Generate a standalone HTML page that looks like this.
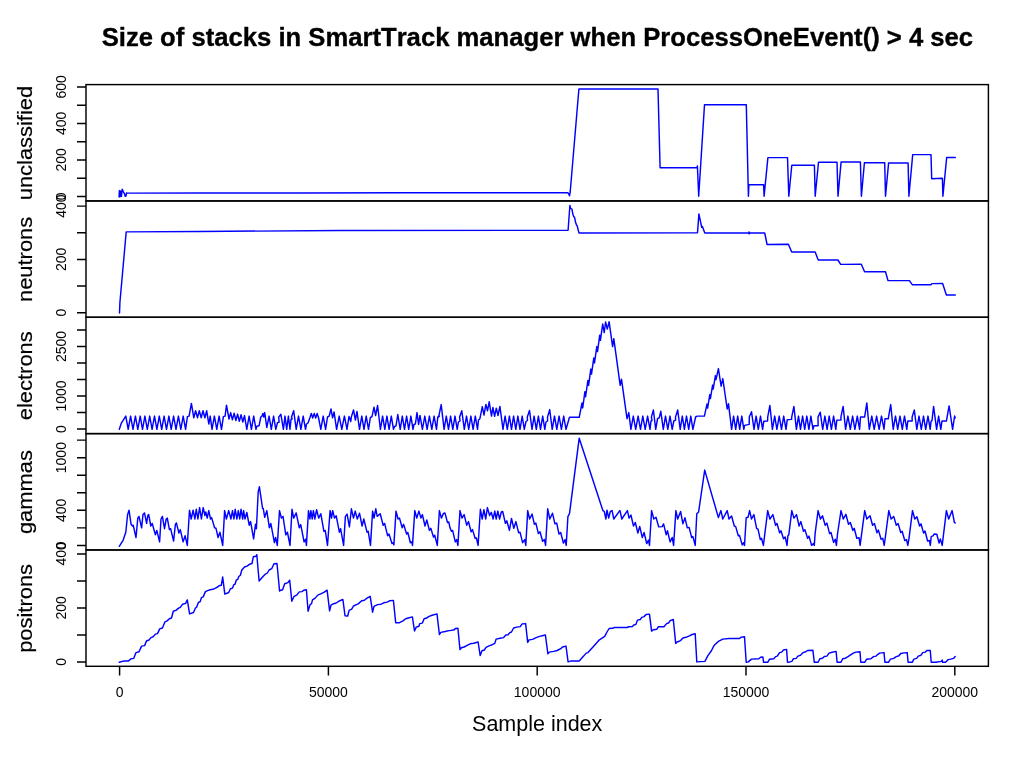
<!DOCTYPE html>
<html lang="en"><head><meta charset="utf-8">
<title>Size of stacks in SmartTrack manager</title>
<style>
html,body{margin:0;padding:0;background:#fff;}
body{width:1024px;height:768px;overflow:hidden;}
svg{display:block;will-change:transform;}
text{font-family:"Liberation Sans",sans-serif;fill:#000;font-kerning:none;font-variant-ligatures:none;}
.ttl{font-size:25.65px;font-weight:bold;stroke:#000;stroke-width:0.35px;}
.lab{font-size:21.5px;}
.rot{stroke:#000;stroke-width:0.2px;}
.tk{font-size:14.0px;}
.box{fill:none;stroke:#000;stroke-width:1.45;stroke-linecap:square;}
.tick{fill:none;stroke:#000;stroke-width:1.45;}
.ser{fill:none;stroke:#0000ff;stroke-width:1.45;stroke-linejoin:round;stroke-linecap:round;}
</style></head><body>
<svg width="1024" height="768" viewBox="0 0 1024 768">
<rect x="0" y="0" width="1024" height="768" fill="#ffffff"/>
<text class="ttl" x="537.4" y="46.1" text-anchor="middle">Size of stacks in SmartTrack manager when ProcessOneEvent() &gt; 4 sec</text>
<polyline class="ser" points="119.1,196.9 119.4,190.6 120.0,196.8 120.6,191.0 121.4,196.4 122.2,189.3 123.3,191.6 124.4,193.6 125.2,196.2 126.0,196.0 126.5,192.9 127.0,193.1 200.0,193.0 300.0,192.9 400.0,192.8 500.0,192.7 567.4,192.6 568.4,193.3 569.5,195.8 570.2,192.0 578.9,89.0 658.0,88.9 660.1,167.8 697.0,167.8 697.4,166.0 698.7,196.2 704.5,104.8 746.3,104.8 748.4,196.2 748.9,184.8 763.6,184.8 764.1,196.2 767.9,157.6 787.5,157.6 788.8,196.2 791.8,165.2 814.4,165.2 815.2,196.2 818.5,162.2 837.0,162.2 838.0,196.2 841.1,161.9 860.4,161.9 861.4,196.2 864.4,162.7 884.7,162.7 885.5,196.2 888.6,162.9 908.1,162.9 908.9,196.2 912.7,154.6 931.0,154.6 931.7,178.7 942.4,178.2 942.9,196.2 946.7,157.4 955.3,157.4"/>
<polyline class="ser" points="119.5,312.9 119.7,308.0 119.9,302.5 126.2,231.9 200.0,231.5 340.0,230.5 568.1,230.3 569.9,205.4 570.4,208.0 571.3,208.8 572.0,209.4 572.8,214.0 573.8,216.8 574.5,217.2 575.5,222.0 576.5,225.0 577.3,226.2 578.2,230.0 579.0,232.9 697.5,232.7 698.9,213.9 701.7,227.3 702.4,226.5 704.8,233.0 748.8,233.0 749.0,231.9 749.2,233.9 749.4,233.0 764.7,233.0 767.1,244.5 788.4,244.3 791.7,252.0 815.2,252.0 818.2,260.0 837.9,260.0 840.7,264.4 861.3,264.2 864.6,271.7 885.5,271.7 888.0,280.6 909.4,280.6 912.4,284.8 930.9,284.8 931.9,283.6 942.6,283.4 946.4,294.9 955.3,294.9"/>
<polyline class="ser" points="119.3,429.3 121.4,423.1 125.8,416.1 128.2,429.3 130.6,416.1 133.0,429.3 135.4,416.1 137.8,429.3 140.2,416.1 142.5,429.3 144.9,416.1 147.3,429.3 149.7,416.1 152.1,429.3 154.5,416.1 156.9,429.3 159.3,416.1 161.7,429.3 164.1,416.1 166.5,429.3 168.9,416.1 171.2,429.3 173.6,416.1 176.0,429.3 178.4,416.1 180.8,429.3 183.2,416.1 185.6,429.3 187.4,416.6 187.4,416.6 189.1,416.1 191.4,403.4 193.8,417.8 195.6,410.8 197.5,417.8 199.3,410.8 201.2,417.8 203.0,410.8 204.9,417.8 206.7,410.8 208.8,424.0 210.2,416.1 212.0,429.3 214.4,416.1 216.8,429.3 219.1,416.1 221.5,429.3 223.4,416.6 225.1,416.1 226.5,405.2 229.0,419.0 230.7,412.6 232.4,419.8 234.2,413.3 235.9,420.5 237.6,414.1 239.3,421.3 241.1,414.8 242.8,422.0 244.5,415.6 246.8,429.3 249.1,416.1 251.4,429.3 253.7,416.1 256.0,429.3 256.8,426.3 259.1,425.7 260.8,417.0 262.0,416.1 262.9,413.4 263.8,417.0 264.7,412.6 266.8,427.5 269.1,416.1 271.3,429.3 273.6,416.1 275.8,429.3 277.5,422.6 279.1,422.2 278.7,417.1 280.9,414.3 283.4,429.3 285.0,416.1 286.7,429.3 288.4,416.1 290.0,429.3 291.0,419.5 292.2,418.8 291.5,417.1 293.7,410.8 296.2,429.3 298.5,416.1 300.9,429.3 303.2,416.1 305.5,429.3 306.5,424.0 308.0,423.0 309.8,418.0 311.3,413.4 312.7,418.0 314.2,413.4 315.7,418.0 317.1,413.4 318.6,418.0 320.8,429.3 323.2,416.1 325.6,429.3 327.5,417.0 329.2,416.1 331.0,409.0 332.6,417.8 334.1,412.0 336.6,429.3 339.2,416.1 341.8,429.3 344.4,416.1 347.0,429.3 349.0,416.5 350.8,421.5 351.3,417.1 353.5,410.0 355.4,420.0 357.0,411.5 359.5,429.3 361.8,416.1 364.0,429.3 366.2,416.1 368.5,429.3 370.4,417.5 372.0,416.6 374.0,407.2 375.6,415.5 377.6,405.5 380.4,429.3 382.6,416.1 384.8,429.3 386.9,416.1 389.1,429.3 391.3,416.1 393.5,429.3 394.6,426.5 396.0,425.8 397.8,414.5 400.2,429.3 402.3,416.1 404.5,429.3 406.6,416.1 408.7,429.3 410.9,416.1 413.0,429.3 414.0,424.5 415.4,424.0 417.0,412.6 418.6,424.5 420.0,415.4 422.4,429.3 424.8,416.1 427.1,429.3 429.4,416.1 431.8,429.3 434.1,416.1 436.5,429.3 437.8,417.0 439.5,416.1 438.6,417.1 441.2,404.6 444.1,429.3 446.3,416.1 448.5,429.3 450.6,416.1 452.8,429.3 455.0,416.1 457.2,429.3 458.4,422.0 460.0,421.0 459.6,417.1 461.8,410.8 464.3,429.3 466.5,416.1 468.7,429.3 470.9,416.1 473.1,429.3 475.3,416.1 477.5,429.3 478.5,420.0 479.9,418.7 482.3,406.6 484.0,415.0 485.9,404.4 487.5,410.8 489.2,401.8 491.5,416.1 492.9,407.5 494.6,416.3 496.3,408.2 498.0,415.5 499.9,406.4 503.0,429.3 505.1,416.1 507.3,429.3 509.4,416.1 511.5,429.3 513.6,416.1 515.8,429.3 517.9,416.1 520.0,429.3 522.2,416.1 524.3,429.3 526.0,421.5 527.5,420.5 527.3,417.1 529.5,410.4 532.0,429.3 534.1,416.1 536.3,429.3 538.4,416.1 540.5,429.3 542.7,416.1 544.8,429.3 546.0,422.0 547.6,421.0 547.5,417.1 549.7,409.6 552.2,429.3 554.5,416.1 556.8,429.3 559.1,416.1 561.4,429.3 563.7,416.1 566.0,429.3 569.5,417.3 579.2,417.3 582.0,403.0 582.7,408.0 584.9,391.7 585.6,396.7 587.9,380.4 588.6,385.4 590.8,369.1 591.5,374.1 593.8,357.9 594.5,362.9 596.8,346.6 597.5,351.6 599.7,335.3 600.4,340.3 602.7,324.0 604.2,332.6 605.6,322.0 607.3,329.1 609.1,321.7 612.6,346.6 613.8,338.7 620.2,385.3 621.5,379.2 627.0,418.7 628.8,412.6 630.9,429.3 633.3,416.1 635.7,429.3 638.1,416.1 640.5,429.3 642.8,416.1 645.2,429.3 647.6,416.1 650.0,429.3 651.0,421.0 652.0,420.5 651.4,417.1 653.4,410.0 655.7,429.3 657.6,418.5 659.2,417.8 660.8,411.3 663.3,429.3 665.5,416.1 667.8,429.3 670.0,416.1 672.2,429.3 673.8,421.0 675.6,420.2 675.5,417.1 677.7,410.0 680.2,429.3 682.3,416.1 684.4,429.3 686.5,416.1 688.7,429.3 690.8,416.1 692.9,429.3 695.6,417.0 697.3,416.1 704.4,416.1 707.0,404.1 707.6,408.1 709.8,394.6 710.4,398.6 712.6,385.1 713.2,389.1 715.4,375.6 716.0,379.6 718.4,368.6 721.1,386.2 722.8,378.6 727.2,409.0 728.5,403.8 731.6,429.3 733.6,416.1 735.7,429.3 737.7,416.1 739.7,429.3 741.8,416.1 743.8,429.3 744.6,425.4 749.2,424.4 749.3,417.1 751.5,411.7 754.0,429.3 756.1,416.1 758.3,429.3 760.5,416.1 762.6,429.3 763.8,421.2 767.6,421.0 767.7,417.1 769.9,405.5 772.4,429.3 774.7,416.1 776.9,429.3 779.2,416.1 781.5,429.3 783.7,416.1 786.0,429.3 787.2,419.8 791.6,419.4 791.7,417.1 793.9,406.4 796.4,429.3 798.5,416.1 800.5,429.3 802.6,416.1 804.7,429.3 806.8,416.1 808.9,429.3 810.9,416.1 813.0,429.3 813.9,425.7 818.1,425.7 818.0,417.1 820.2,412.2 822.7,429.3 824.9,416.1 827.1,429.3 829.2,416.1 831.4,429.3 833.6,416.1 835.8,429.3 836.8,420.1 841.0,420.1 840.9,417.1 843.1,406.4 845.6,429.3 847.9,416.1 850.3,429.3 852.6,416.1 854.9,429.3 857.3,416.1 859.6,429.3 860.5,417.0 864.7,417.0 864.6,417.1 866.8,402.9 869.3,429.3 871.8,416.1 874.2,429.3 876.6,416.1 879.1,429.3 881.5,416.1 884.0,429.3 885.0,418.7 888.4,418.7 888.5,417.1 890.7,404.6 893.2,429.3 895.5,416.1 897.7,429.3 900.0,416.1 902.3,429.3 904.5,416.1 906.8,429.3 907.8,421.0 912.2,421.0 912.1,417.1 914.3,410.0 916.8,429.3 919.0,416.1 921.3,429.3 923.5,416.1 925.7,429.3 928.0,416.1 930.2,429.3 931.0,421.5 932.0,420.5 933.6,406.4 936.6,429.3 938.6,416.1 940.8,429.3 942.0,421.0 946.4,421.0 949.1,405.9 952.6,429.3 954.6,416.0 955.2,418.0"/>
<polyline class="ser" points="119.3,546.3 123.2,540.1 125.8,532.2 127.6,514.6 129.0,510.2 131.1,524.3 132.5,526.0 133.2,525.2 136.0,537.5 137.8,518.1 139.0,516.4 141.6,527.8 143.0,514.6 144.5,512.9 146.6,523.4 147.8,515.5 148.7,514.6 150.8,526.0 152.2,523.4 155.4,534.8 156.8,530.4 159.6,541.9 161.0,519.0 162.4,516.4 164.5,528.7 166.2,519.0 167.3,518.1 169.4,529.6 170.6,528.7 173.6,541.0 175.4,524.3 176.4,522.9 178.9,533.1 180.3,529.6 183.1,541.9 185.1,535.7 187.3,545.4 189.5,510.2 191.2,519.0 193.1,510.2 194.9,519.0 196.3,509.3 197.9,519.0 199.6,507.6 201.4,519.0 203.2,507.6 204.9,515.5 205.8,512.0 207.2,518.1 208.8,510.6 210.5,519.0 211.6,517.6 214.6,527.8 216.0,528.3 218.1,537.5 219.9,532.2 222.7,545.4 224.6,510.6 226.4,519.0 228.7,510.6 230.9,519.0 232.5,510.6 233.9,519.0 235.2,509.3 236.9,519.0 238.3,510.6 239.7,519.0 241.0,509.3 242.7,519.0 243.6,510.6 245.0,519.0 246.8,512.5 249.2,525.2 250.6,521.6 253.6,538.9 255.5,524.3 256.4,528.7 258.2,491.8 259.4,486.8 262.6,508.5 263.3,508.5 264.7,517.3 266.8,510.6 269.4,527.8 270.8,523.4 274.4,542.7 275.6,537.5 277.3,545.4 279.5,510.6 281.4,518.1 283.0,516.4 285.8,534.8 287.4,532.2 290.0,545.4 292.0,509.3 293.7,518.1 296.2,512.9 299.3,527.8 300.7,524.6 304.1,541.9 305.7,539.2 306.4,545.4 308.5,510.6 309.9,519.0 310.9,510.6 312.2,519.0 313.4,510.6 314.8,519.0 316.6,509.7 318.7,518.1 320.8,513.7 323.9,531.3 325.2,530.4 327.5,545.4 330.1,510.6 331.5,518.1 332.7,510.6 334.5,518.1 336.2,515.8 339.4,532.2 340.6,528.7 343.6,545.4 345.4,516.4 347.1,514.1 349.4,526.9 351.4,508.8 353.5,518.1 355.2,511.1 357.3,519.0 359.5,513.2 362.1,526.0 363.8,519.0 367.0,532.2 368.2,531.3 370.5,545.4 372.6,511.1 374.0,518.1 375.8,508.8 377.2,516.4 380.2,513.7 383.2,525.2 384.6,523.4 387.6,535.7 389.0,534.0 392.0,543.6 393.4,542.7 393.9,544.9 396.0,511.1 398.1,519.0 399.5,518.1 402.2,527.8 403.6,524.3 406.6,534.0 407.8,532.5 410.4,542.7 411.8,541.9 412.5,545.4 414.8,510.6 416.8,518.1 418.9,511.1 421.0,518.1 422.4,514.6 425.0,526.0 426.8,519.9 429.4,530.4 430.8,528.3 433.5,537.1 434.7,535.2 437.3,545.4 439.4,510.6 441.4,518.1 443.5,513.4 444.9,512.9 447.5,522.5 448.8,522.0 450.0,527.8 451.4,531.3 452.6,530.4 455.3,541.9 456.7,539.6 457.9,545.4 460.0,510.6 462.0,518.1 464.1,514.6 466.7,525.2 468.5,521.6 471.1,531.8 472.5,529.6 475.1,538.3 476.4,538.0 478.1,545.4 480.4,509.3 482.2,519.0 483.9,509.7 485.7,519.0 487.4,507.6 489.6,515.5 491.3,512.3 493.1,519.0 494.8,511.1 496.2,519.0 497.8,511.1 499.6,519.0 501.3,512.0 502.7,511.5 505.4,523.4 506.8,520.8 509.4,530.4 511.5,518.5 513.8,528.3 515.9,521.6 518.6,532.7 520.0,532.2 522.6,542.7 524.7,539.6 525.8,545.4 527.7,510.6 529.6,519.0 532.1,514.1 534.4,524.3 535.8,522.9 538.4,533.6 540.0,531.7 542.6,541.3 544.4,539.6 545.6,545.4 547.7,508.8 549.8,519.0 552.5,513.2 554.9,523.8 556.7,523.1 559.0,534.0 560.7,532.5 563.4,543.1 565.1,539.6 566.2,545.4 567.9,516.7 569.5,513.7 579.2,438.2 602.9,510.6 604.3,511.5 605.9,519.0 607.0,510.2 608.7,518.1 610.3,511.5 612.1,510.6 613.8,519.0 619.6,510.9 620.0,510.6 621.8,519.0 627.4,510.6 629.1,518.1 630.9,515.0 633.5,526.0 635.3,522.5 637.9,533.1 639.7,526.4 642.3,537.5 644.1,532.5 646.7,543.6 648.5,540.1 649.5,545.4 651.6,510.6 653.8,519.0 656.0,517.3 658.7,526.9 662.2,526.6 663.6,523.9 666.2,534.8 667.5,530.8 670.1,541.9 672.2,537.5 673.6,545.4 675.9,510.6 677.7,519.0 680.6,511.5 682.9,523.8 685.0,517.8 687.3,527.8 689.1,527.4 691.7,537.5 692.9,536.6 695.2,545.4 696.8,513.7 698.6,512.0 704.7,470.1 718.4,517.6 720.9,510.6 722.8,519.0 727.2,510.6 729.0,519.0 731.6,516.0 734.3,526.0 735.7,526.6 738.3,535.7 739.5,535.4 742.2,544.9 743.6,542.7 744.5,545.4 746.2,517.8 748.0,517.3 749.6,510.6 751.5,519.0 753.9,514.6 756.6,528.3 758.0,529.2 760.3,539.6 761.5,538.3 763.4,545.4 767.7,510.6 769.9,519.0 772.9,514.6 775.6,525.2 777.0,523.4 779.6,532.7 781.0,530.8 783.5,538.7 785.2,537.1 787.0,545.4 787.9,535.7 788.8,534.8 791.8,510.6 793.9,518.1 796.5,514.6 799.1,526.0 800.9,521.6 803.5,531.3 804.9,529.6 807.6,538.3 809.0,536.1 811.6,545.4 813.4,543.6 814.3,545.4 815.1,533.6 818.1,510.6 820.4,519.0 822.5,515.8 825.2,525.2 826.9,523.1 829.6,533.6 831.0,532.5 833.6,542.4 835.2,539.2 836.4,545.4 837.5,534.0 841.0,510.6 843.3,519.0 845.9,514.3 848.5,524.3 850.3,522.5 852.9,530.4 854.2,528.3 856.8,538.3 859.1,537.8 860.1,545.4 861.2,537.1 864.7,510.6 866.8,519.0 870.0,515.8 872.6,525.2 874.4,523.4 877.0,532.7 878.4,530.1 881.1,539.2 882.8,538.3 884.2,545.4 885.3,537.5 888.8,510.6 891.1,519.0 893.7,516.4 896.3,525.2 898.1,523.4 900.7,532.5 902.1,531.3 904.8,540.6 906.5,539.6 907.8,545.4 909.0,538.3 912.5,510.6 914.8,519.0 916.9,516.7 919.6,526.0 921.0,523.8 923.6,533.1 925.0,531.0 927.6,541.0 929.4,540.5 930.3,545.4 931.2,536.6 933.3,535.7 934.1,534.0 936.8,534.3 939.1,543.1 940.3,538.9 942.2,545.4 946.4,510.6 948.7,519.0 952.1,510.6 954.4,522.5 955.2,522.9"/>
<polyline class="ser" points="119.3,662.3 124.1,660.9 128.5,660.9 131.1,658.7 133.7,658.4 136.0,652.6 139.0,651.7 141.6,646.1 144.6,645.6 146.6,640.8 148.7,640.3 151.0,637.6 153.1,636.8 155.4,634.1 157.5,633.6 159.7,628.9 162.4,628.0 165.0,621.8 167.1,620.9 169.4,618.8 171.5,618.0 173.3,611.3 175.9,610.4 178.6,608.1 180.3,607.4 182.6,604.2 185.6,603.4 187.3,599.9 189.6,613.9 193.5,612.5 195.3,608.3 196.7,606.9 198.4,602.5 200.2,601.6 201.4,597.7 203.2,596.9 205.4,591.6 207.6,590.7 210.2,589.7 212.8,589.3 215.5,588.1 217.6,587.0 219.0,585.8 221.3,585.3 222.7,577.0 224.8,594.1 228.7,592.5 230.4,588.8 232.5,588.1 233.9,584.6 235.2,584.0 236.2,580.2 237.8,579.3 238.8,576.5 240.4,575.2 241.8,570.0 244.5,567.0 247.1,566.1 249.7,564.2 252.0,563.5 253.3,556.8 255.9,556.3 256.8,554.7 259.1,581.0 262.1,577.5 264.7,574.7 267.3,573.0 269.1,570.0 271.7,568.7 274.0,563.8 277.0,563.5 279.6,591.1 280.0,590.5 282.6,589.8 284.7,583.7 287.9,582.6 289.7,580.2 291.8,601.3 294.1,596.3 296.7,595.1 299.3,591.9 302.0,591.6 303.7,590.2 306.4,589.7 308.1,611.3 309.9,605.1 311.6,603.4 312.5,599.9 315.2,598.1 317.8,595.1 321.3,593.7 323.9,592.3 327.1,590.2 329.6,610.9 331.0,605.1 333.6,603.7 336.2,603.0 339.8,600.7 342.9,599.5 345.0,615.7 347.7,616.0 349.1,610.4 351.7,609.2 353.5,606.0 356.5,604.6 358.2,603.9 361.7,600.7 364.4,600.2 367.0,598.1 370.2,596.3 372.6,612.2 374.0,606.4 377.6,604.6 381.1,604.2 383.7,602.8 387.2,602.1 389.9,600.7 393.4,600.4 395.7,622.7 399.5,622.7 403.0,620.9 405.7,618.8 408.3,618.0 412.4,616.9 414.5,631.0 416.2,627.1 418.9,626.2 419.7,623.6 422.4,623.1 424.1,618.8 426.8,618.0 428.5,616.6 432.1,615.3 437.0,613.9 439.4,634.5 440.8,632.4 445.2,631.5 448.8,630.6 450.0,630.6 454.4,629.7 455.3,628.5 457.9,628.3 460.0,649.6 461.4,647.8 464.1,647.0 466.7,645.6 470.2,643.8 473.7,643.3 478.1,642.0 480.2,655.6 482.0,650.8 484.3,650.0 486.0,647.3 489.6,645.6 492.2,644.7 494.8,643.4 496.1,639.1 500.1,638.2 503.6,637.6 505.9,635.0 508.0,634.7 509.8,632.7 511.5,632.0 513.6,628.0 516.8,627.1 520.3,626.6 522.1,623.9 525.6,623.6 527.7,642.4 529.1,639.9 532.6,639.4 536.1,637.6 539.6,636.4 543.2,635.5 545.4,635.0 547.9,653.8 549.3,652.1 553.7,651.4 557.2,650.5 560.7,648.7 562.5,647.0 566.0,646.1 568.1,661.9 571.3,660.9 579.2,660.9 583.6,656.1 586.2,653.1 588.0,652.6 595.9,643.8 599.4,639.8 604.7,636.4 607.0,632.0 609.1,628.5 612.6,628.3 614.4,627.5 619.6,627.5 620.0,627.5 627.0,627.5 628.8,626.8 632.3,626.6 634.1,624.8 635.8,624.5 637.6,620.1 640.2,619.5 642.0,617.1 643.7,616.9 646.4,614.4 649.5,614.3 651.6,631.1 653.4,629.7 656.9,629.2 658.3,626.8 663.9,626.8 666.6,623.6 668.9,622.7 670.1,620.6 673.3,619.5 675.7,643.4 677.1,642.0 680.6,640.6 682.9,638.0 685.9,637.3 689.4,635.9 692.1,634.5 695.2,633.8 696.8,661.9 704.9,661.4 707.9,655.6 711.4,650.8 714.0,645.6 716.7,642.9 719.3,640.8 722.8,639.1 729.0,638.5 739.5,638.5 741.3,637.1 744.5,636.8 746.2,662.3 748.3,661.9 751.5,659.1 758.9,658.7 760.6,657.3 762.9,657.0 763.6,662.3 767.7,662.3 769.4,659.3 773.8,658.7 775.6,656.6 777.3,656.1 779.6,652.6 781.7,652.1 783.5,650.0 786.6,649.4 787.5,662.3 789.6,662.1 790.0,661.9 791.8,661.4 793.5,658.7 796.2,658.4 797.9,656.1 800.5,655.2 803.2,652.6 805.8,651.7 807.6,650.5 812.9,650.3 814.3,662.3 818.1,662.3 819.9,658.7 822.5,658.2 824.3,656.5 826.9,656.1 829.0,653.1 832.2,652.2 836.1,651.4 837.1,662.3 841.0,662.3 842.7,658.7 845.4,658.2 848.0,656.6 850.6,654.9 853.3,653.1 855.9,652.1 860.0,651.7 860.8,662.3 864.7,662.3 866.5,659.3 870.9,658.7 873.5,656.6 876.1,656.1 877.9,654.3 879.6,653.1 884.0,652.6 884.9,662.3 888.4,662.3 890.5,659.1 893.7,658.4 896.3,656.6 899.0,655.8 900.7,653.5 904.3,652.9 907.2,652.6 908.1,662.3 912.2,662.3 913.9,659.1 916.6,658.4 918.3,656.1 921.0,655.2 922.7,652.6 925.4,652.1 926.8,650.5 930.3,650.5 931.2,662.3 935.9,662.3 941.2,661.4 942.2,660.1 942.6,662.3 945.6,662.3 948.2,659.6 950.8,659.1 953.5,658.4 955.2,656.5"/>
<rect class="box" x="86.00" y="84.60" width="902.40" height="116.34"/>
<rect class="box" x="86.00" y="200.94" width="902.40" height="116.34"/>
<rect class="box" x="86.00" y="317.28" width="902.40" height="116.34"/>
<rect class="box" x="86.00" y="433.62" width="902.40" height="116.34"/>
<rect class="box" x="86.00" y="549.96" width="902.40" height="116.34"/>
<path class="tick" d="M77.00 196.45H86.00M77.00 178.20H86.00M77.00 159.95H86.00M77.00 141.70H86.00M77.00 123.45H86.00M77.00 105.20H86.00M77.00 86.95H86.00"/>
<text class="tk" text-anchor="middle" transform="translate(66.2 196.45) rotate(-90)">0</text>
<text class="tk" text-anchor="middle" transform="translate(66.2 159.95) rotate(-90)">200</text>
<text class="tk" text-anchor="middle" transform="translate(66.2 123.45) rotate(-90)">400</text>
<text class="tk" text-anchor="middle" transform="translate(66.2 86.95) rotate(-90)">600</text>
<text class="lab rot" text-anchor="middle" transform="translate(32.0 143.07) rotate(-90) scale(1.02 0.97)">unclassified</text>
<path class="tick" d="M77.00 312.70H86.00M77.00 286.05H86.00M77.00 259.40H86.00M77.00 232.75H86.00M77.00 206.10H86.00"/>
<text class="tk" text-anchor="middle" transform="translate(66.2 312.70) rotate(-90)">0</text>
<text class="tk" text-anchor="middle" transform="translate(66.2 259.40) rotate(-90)">200</text>
<text class="tk" text-anchor="middle" transform="translate(66.2 206.10) rotate(-90)">400</text>
<text class="lab rot" text-anchor="middle" transform="translate(32.0 259.41) rotate(-90) scale(1.02 0.97)">neutrons</text>
<path class="tick" d="M77.00 429.00H86.00M77.00 412.50H86.00M77.00 396.00H86.00M77.00 379.50H86.00M77.00 363.00H86.00M77.00 346.50H86.00M77.00 330.00H86.00"/>
<text class="tk" text-anchor="middle" transform="translate(66.2 429.00) rotate(-90)">0</text>
<text class="tk" text-anchor="middle" transform="translate(66.2 396.00) rotate(-90)">1000</text>
<text class="tk" text-anchor="middle" transform="translate(66.2 346.50) rotate(-90)">2500</text>
<text class="lab rot" text-anchor="middle" transform="translate(32.0 375.75) rotate(-90) scale(1.02 0.97)">electrons</text>
<path class="tick" d="M77.00 545.40H86.00M77.00 527.85H86.00M77.00 510.30H86.00M77.00 492.75H86.00M77.00 475.20H86.00M77.00 457.65H86.00M77.00 440.10H86.00"/>
<text class="tk" text-anchor="middle" transform="translate(66.2 545.40) rotate(-90)">0</text>
<text class="tk" text-anchor="middle" transform="translate(66.2 510.30) rotate(-90)">400</text>
<text class="tk" text-anchor="middle" transform="translate(66.2 457.65) rotate(-90)">1000</text>
<text class="lab rot" text-anchor="middle" transform="translate(32.0 492.09) rotate(-90) scale(1.02 0.97)">gammas</text>
<path class="tick" d="M77.00 661.90H86.00M77.00 634.90H86.00M77.00 607.90H86.00M77.00 580.90H86.00M77.00 553.90H86.00"/>
<text class="tk" text-anchor="middle" transform="translate(66.2 661.90) rotate(-90)">0</text>
<text class="tk" text-anchor="middle" transform="translate(66.2 607.90) rotate(-90)">200</text>
<text class="tk" text-anchor="middle" transform="translate(66.2 553.90) rotate(-90)">400</text>
<text class="lab rot" text-anchor="middle" transform="translate(32.0 608.43) rotate(-90) scale(1.02 0.97)">positrons</text>
<path class="tick" d="M119.60 666.30V675.40M328.40 666.30V675.40M537.20 666.30V675.40M746.00 666.30V675.40M954.80 666.30V675.40"/>
<text class="tk" text-anchor="middle" x="119.6" y="696.8">0</text>
<text class="tk" text-anchor="middle" x="328.4" y="696.8">50000</text>
<text class="tk" text-anchor="middle" x="537.2" y="696.8">100000</text>
<text class="tk" text-anchor="middle" x="746.0" y="696.8">150000</text>
<text class="tk" text-anchor="middle" x="954.8" y="696.8">200000</text>
<text class="lab" text-anchor="middle" x="537.2" y="731.2">Sample index</text>
</svg>
</body></html>
